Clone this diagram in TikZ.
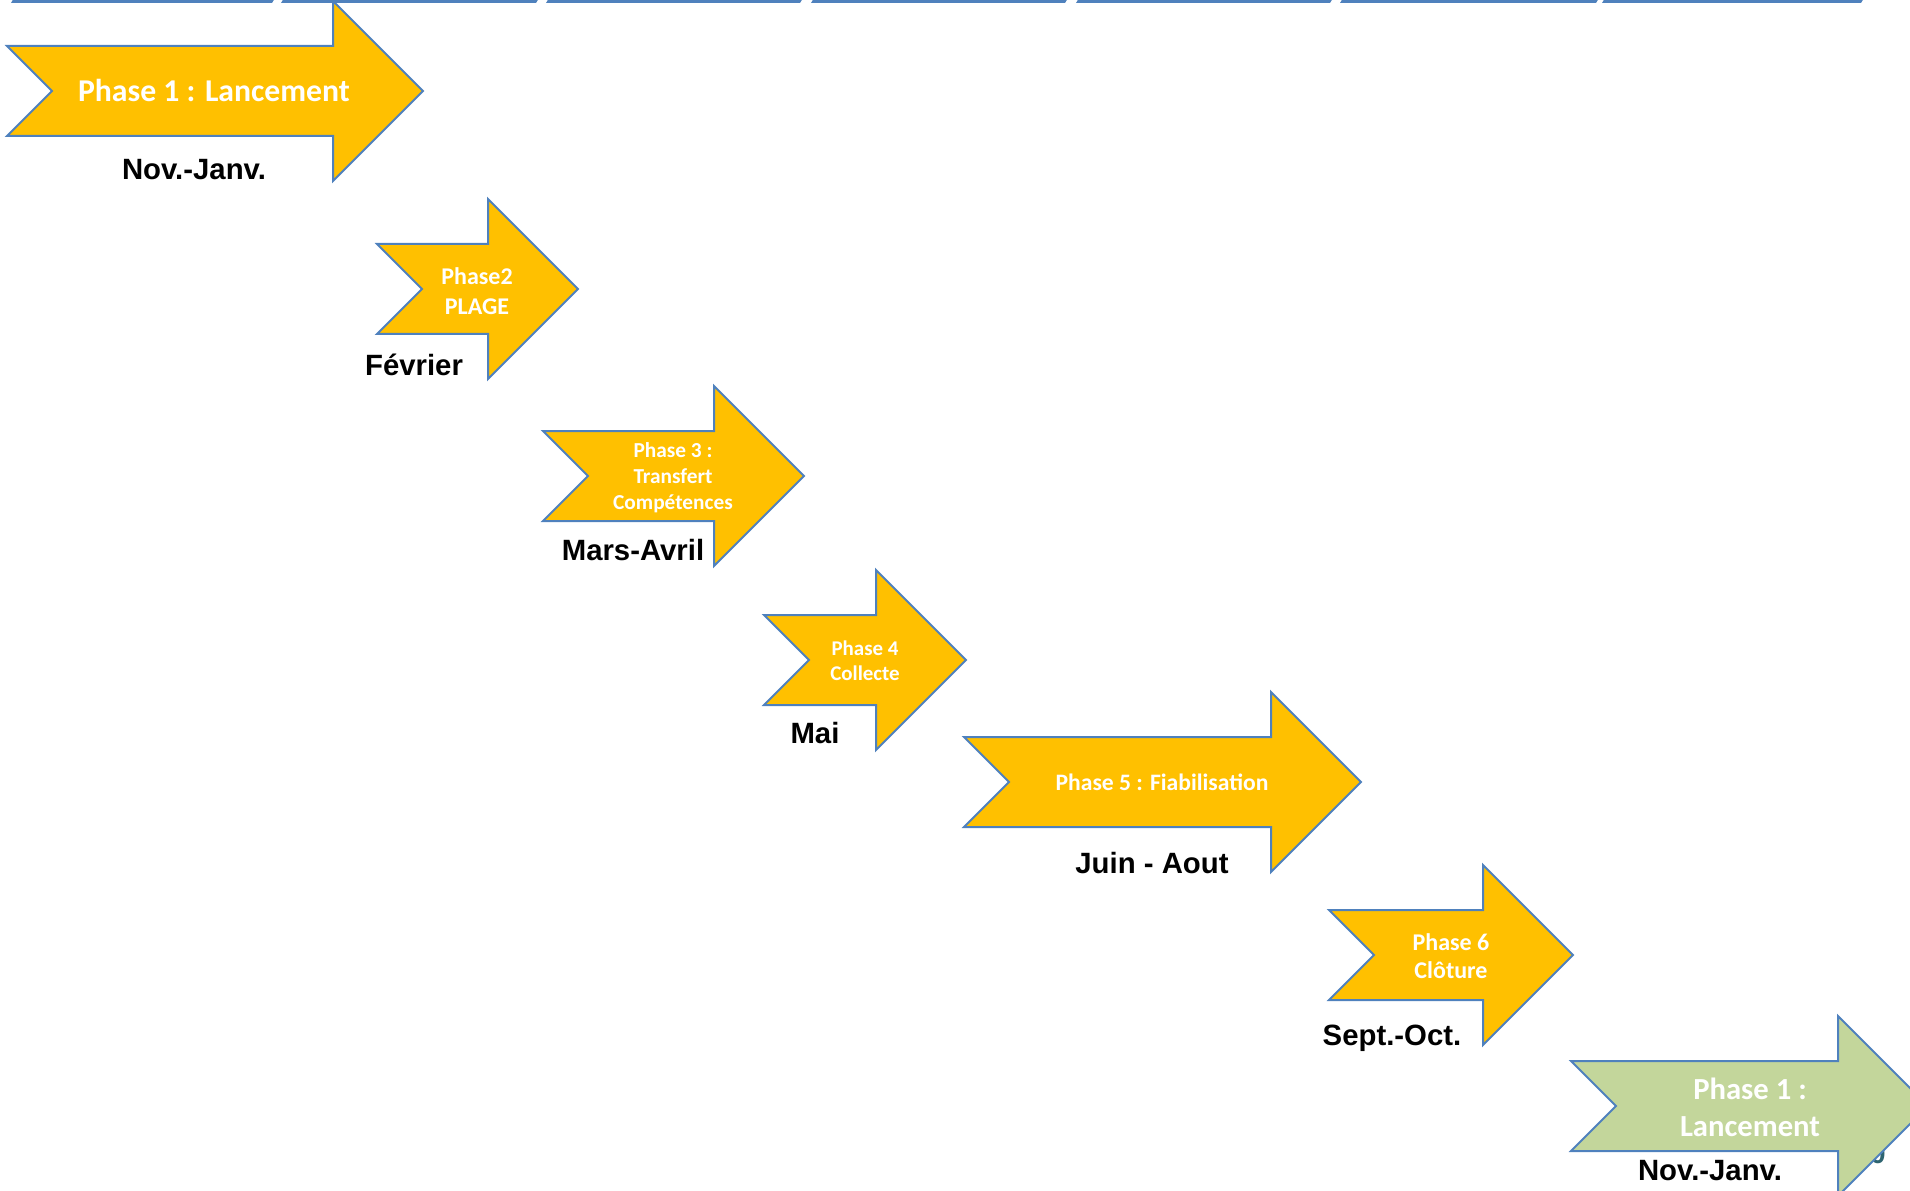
\documentclass[tikz,border=0pt]{standalone}
\usepackage{fontspec}
\setmainfont{Liberation Sans}
\newfontfamily\calibfont{Carlito}
\usepackage{xcolor}
\usepackage{tikz}

\definecolor{phaseyellow}{HTML}{FFC000}
\definecolor{phaseblue}{HTML}{4F81BD}
\definecolor{phasegreen}{HTML}{C3D69B}
\definecolor{pageteal}{HTML}{2E6470}

\begin{document}
\begin{tikzpicture}[x=0.75pt, y=-0.75pt]
        \tikzset{arrow style/.style={draw=phaseblue, line width=1.5pt, fill=phaseyellow, line join=miter}}
        \tikzset{phase style/.style={text=white, align=center, inner sep=0pt}}
        \tikzset{date style/.style={text=black, anchor=base, inner sep=0pt, font=\bfseries\fontsize{22}{26}\selectfont}}
        \tikzset{bar style/.style={fill=phaseblue}}

        \useasboundingbox (0,0) rectangle (1910,1191);

        % bandeau du haut
        \foreach \a/\b in {12/273, 282/537, 547/801, 812/1066, 1077/1331, 1341/1597, 1603/1862}
            \fill[bar style] (\a-1,3) -- (\a+2,-2) -- (\b+2,-2) -- (\b-1,3) -- cycle;

        % fleches des phases
        \draw[arrow style] (7,46) -- ++(326,0) -- ++(0,-45) -- ++(90,90) -- ++(-90,90) -- ++(0,-45) -- ++(-326,0) -- ++(45,-45) -- cycle;
        \draw[arrow style] (377,244) -- ++(111,0) -- ++(0,-45) -- ++(90,90) -- ++(-90,90) -- ++(0,-45) -- ++(-111,0) -- ++(45,-45) -- cycle;
        \draw[arrow style] (543,431) -- ++(171,0) -- ++(0,-45) -- ++(90,90) -- ++(-90,90) -- ++(0,-45) -- ++(-171,0) -- ++(45,-45) -- cycle;
        \draw[arrow style] (764,615) -- ++(112,0) -- ++(0,-45) -- ++(90,90) -- ++(-90,90) -- ++(0,-45) -- ++(-112,0) -- ++(45,-45) -- cycle;
        \draw[arrow style] (964,737) -- ++(307,0) -- ++(0,-45) -- ++(90,90) -- ++(-90,90) -- ++(0,-45) -- ++(-307,0) -- ++(45,-45) -- cycle;
        \draw[arrow style] (1329,910) -- ++(154,0) -- ++(0,-45) -- ++(90,90) -- ++(-90,90) -- ++(0,-45) -- ++(-154,0) -- ++(45,-45) -- cycle;

        \node[text=pageteal, anchor=base east, inner sep=0pt, font=\bfseries\fontsize{21}{25}\selectfont] (pagenum) at (1886,1163) {0};
        \draw[arrow style, fill=phasegreen] (1571,1061) -- ++(267,0) -- ++(0,-45) -- ++(90,90) -- ++(-90,90) -- ++(0,-45) -- ++(-267,0) -- ++(45,-45) -- cycle;

        % textes dans les fleches
        \node[phase style, anchor=base, font=\calibfont\bfseries\fontsize{23.8}{28}\selectfont] (phase1) at (214,102) {Phase 1 : Lancement};
        \node[phase style, font=\calibfont\bfseries\fontsize{18}{22}\selectfont] (phase2) at (477,291) {Phase2\\PLAGE};
        \node[phase style, font=\calibfont\bfseries\fontsize{16}{19.5}\selectfont] (phase3) at (673,478) {Phase 3 :\\Transfert\\Compétences};
        \node[phase style, font=\calibfont\bfseries\fontsize{15.7}{18.5}\selectfont] (phase4) at (865,661) {Phase 4\\Collecte};
        \node[phase style, anchor=base, font=\calibfont\bfseries\fontsize{17.7}{21}\selectfont] (phase5) at (1162,790) {Phase 5 : Fiabilisation};
        \node[phase style, font=\calibfont\bfseries\fontsize{18}{21}\selectfont] (phase6) at (1451,956) {Phase 6\\Clôture};
        \node[phase style, font=\calibfont\bfseries\fontsize{23}{27.75}\selectfont] (phase7) at (1750,1107) {Phase 1 :\\Lancement};

        % periodes
        \node[date style] (date1) at (194,180) {Nov.-Janv.};
        \node[date style] (date2) at (414,375) {Février};
        \node[date style] (date3) at (633,560) {Mars-Avril};
        \node[date style] (date4) at (815,743) {Mai};
        \node[date style] (date5) at (1152,873) {Juin - Aout};
        \node[date style] (date6) at (1392,1045) {Sept.-Oct.};
        \node[date style] (date7) at (1710,1180) {Nov.-Janv.};
    \end{tikzpicture}
\end{document}
